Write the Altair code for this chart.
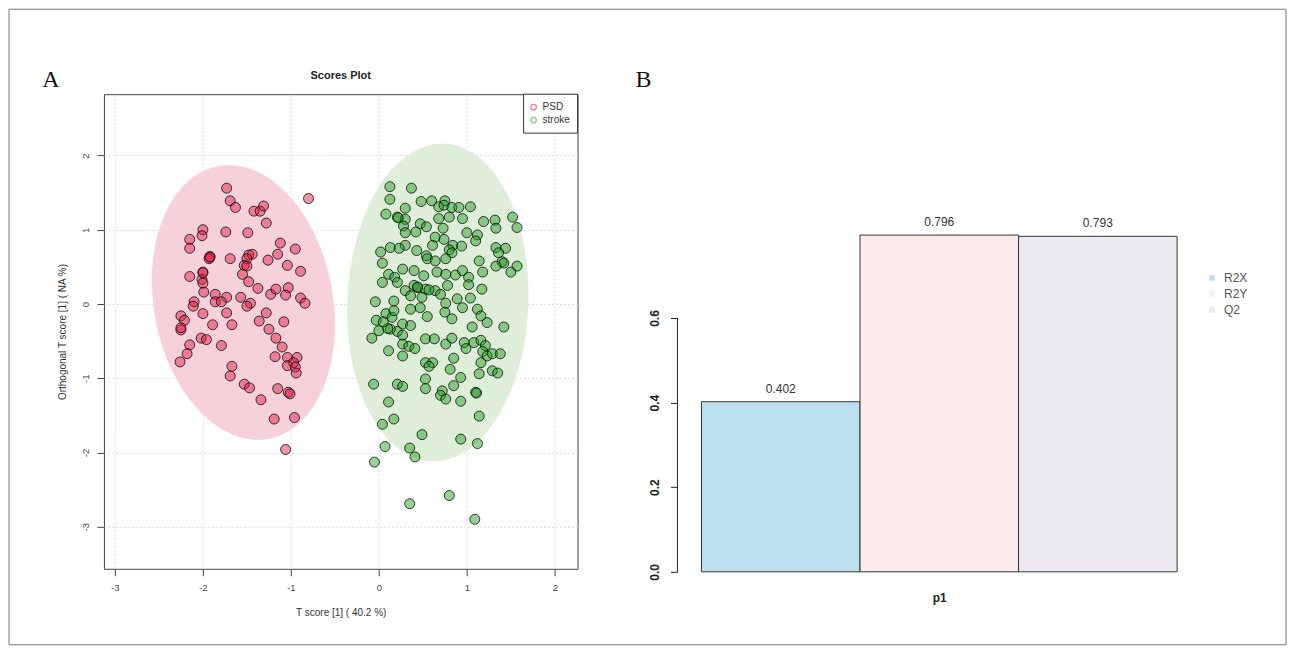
import altair as alt
import numpy as np
import pandas as pd

# ---------------- data: panel A (OPLS-DA scores) ----------------
psd_x = [-1.73, -0.80, -1.69, -1.63, -1.42, -1.35, -1.31, -1.28, -2.00, -2.01, -1.74, -1.49, -2.15, -2.15,
         -1.12, -0.95, -1.92, -1.93, -1.69, -1.48, -1.44, -1.50, -1.26, -1.15, -1.04, -0.89, -1.53, -1.50,
         -1.55, -2.15, -2.00, -2.01, -2.00, -1.48, -1.375, -1.99, -1.86, -1.73, -1.57, -1.46, -1.50, -1.86,
         -1.79, -2.10, -2.11, -1.23, -1.17, -1.03, -1.06, -0.89, -0.84, -2.25, -2.00, -1.73, -1.28, -2.21,
         -2.25, -2.25, -1.89, -1.67, -1.36, -1.08, -1.25, -1.17, -2.02, -1.96, -2.15, -1.79, -2.18, -2.26,
         -1.10, -1.18, -1.04, -0.93, -0.97, -1.04, -0.95, -0.94, -1.67, -1.69, -1.53, -1.47, -1.34, -1.15,
         -1.03, -1.01, -1.19, -0.96, -1.06, -1.92, -2.00]
psd_y = [1.56, 1.42, 1.39, 1.30, 1.25, 1.25, 1.32, 1.09, 1.00, 0.92, 0.97, 0.96, 0.87, 0.75,
         0.82, 0.74, 0.64, 0.61, 0.61, 0.66, 0.67, 0.61, 0.59, 0.67, 0.52, 0.44, 0.52, 0.51,
         0.40, 0.37, 0.43, 0.33, 0.28, 0.30, 0.21, 0.16, 0.13, 0.09, 0.09, 0.01, -0.03, 0.03,
         0.03, 0.03, -0.03, 0.13, 0.20, 0.22, 0.12, 0.08, 0.01, -0.16, -0.13, -0.12, -0.12, -0.22,
         -0.35, -0.32, -0.28, -0.28, -0.23, -0.24, -0.34, -0.46, -0.46, -0.48, -0.55, -0.56, -0.67, -0.78,
         -0.58, -0.71, -0.72, -0.72, -0.79, -0.83, -0.85, -0.93, -0.84, -0.97, -1.08, -1.13, -1.29, -1.14,
         -1.19, -1.21, -1.55, -1.53, -1.96, 0.63, 0.42]

stroke_x = [0.125, 0.37, 0.125, 0.48, 0.60, 0.75, 0.68, 0.74, 0.83, 0.91, 1.04, 0.08, 0.30, 0.21, 0.30,
            0.80, 0.95, 0.68, 1.19, 1.32, 1.33, 1.52, 1.57, 0.28, 0.47, 0.54, 0.73, 0.30, 0.42, 0.64,
            0.74, 1.00, 1.12, 1.10, 0.84, 0.94, 0.61, 0.30, 0.02, 0.13, 0.23, 0.43, 0.54, 0.55, 0.64,
            0.80, 0.83, 0.76, 1.33, 1.44, 1.36, 1.40, 1.42, 1.33, 1.57, 1.50, 0.04, 1.14, 1.18, 0.66,
            0.76, 0.87, 0.95, 1.02, 0.40, 0.51, 0.11, 0.18, 0.27, 0.04, 0.21, 0.40, 0.44, 0.30, 0.53,
            0.64, 0.70, 0.78, 1.02, 1.17, -0.04, 0.17, 0.36, 0.49, 0.89, 1.04, 0.95, 0.83, 0.75, 0.76,
            1.12, 1.16, 1.23, 1.42, 1.06, -0.03, 0.00, 0.08, 0.15, 0.17, 0.27, 0.21, 0.13, 0.36, 0.47,
            0.55, 0.36, -0.08, 0.27, 0.27, 0.34, 0.41, 0.53, 0.63, 0.76, 0.83, 0.97, 0.99, 1.08, 1.16,
            1.21, 1.18, 1.23, 1.29, 1.38, 0.11, 0.27, 0.85, 0.53, 0.61, 0.57, 1.16, 0.81, 1.29, 1.35,
            1.14, 0.53, 0.93, -0.06, 0.21, 0.27, 0.53, 0.85, 0.72, 0.70, 0.76, 1.10, 0.93, 0.11, 1.14,
            0.17, 0.04, 0.49, 0.93, 1.12, 0.07, 0.35, 0.41, -0.05, 0.80, 0.35, 1.09,
            1.11, 0.22, 0.44, 0.57, 0.10, 0.05]
stroke_y = [1.58, 1.56, 1.41, 1.38, 1.39, 1.39, 1.31, 1.33, 1.30, 1.30, 1.31, 1.21, 1.29, 1.17, 1.14,
            1.17, 1.15, 1.15, 1.11, 1.13, 1.02, 1.17, 1.03, 1.05, 1.08, 1.04, 1.02, 0.96, 0.97, 0.90,
            0.87, 0.96, 0.93, 0.85, 0.79, 0.78, 0.79, 0.79, 0.70, 0.76, 0.75, 0.72, 0.65, 0.61, 0.58,
            0.73, 0.69, 0.61, 0.76, 0.75, 0.69, 0.57, 0.55, 0.51, 0.51, 0.43, 0.55, 0.58, 0.43, 0.43,
            0.40, 0.39, 0.45, 0.36, 0.45, 0.38, 0.40, 0.36, 0.47, 0.29, 0.29, 0.25, 0.22, 0.18, 0.20,
            0.18, 0.13, 0.25, 0.26, 0.20, 0.03, 0.04, 0.11, 0.09, 0.07, 0.08, -0.05, -0.20, -0.11, 0.01,
            -0.07, -0.16, -0.25, -0.31, -0.31, -0.22, -0.36, -0.13, -0.18, -0.09, -0.27, -0.37, -0.34, -0.07, -0.05,
            -0.17, -0.29, -0.46, -0.42, -0.54, -0.57, -0.60, -0.47, -0.47, -0.54, -0.46, -0.52, -0.60, -0.52, -0.49,
            -0.56, -0.64, -0.70, -0.67, -0.67, -0.63, -0.70, -0.73, -0.79, -0.79, -0.84, -0.79, -0.88, -0.90, -0.93,
            -0.94, -1.01, -0.99, -1.08, -1.08, -1.11, -1.14, -1.10, -1.17, -1.23, -1.28, -1.19, -1.31, -1.32, -1.51,
            -1.55, -1.62, -1.76, -1.82, -1.88, -1.92, -1.94, -2.06, -2.13, -2.58, -2.69, -2.90,
            -1.20, 1.16, 0.23, 0.19, -0.33, -0.24]

groups = ["PSD", "stroke"]
point_fill = ["#DC143C", "#1A9A1A"]
ellipse_fill = ["#F7D1DA", "#DEEED8"]
legend_stroke = ["#E8456A", "#5DB85D"]
# 95% confidence ellipses:
# centre x, centre y, half-extent in x, half-extent in y, x-shift of the topmost point
ell_cx = [-1.54, 0.67]
ell_cy = [0.02, 0.02]
ell_hx = [1.04, 1.03]
ell_hy = [1.85, 2.14]
ell_top_dx = [-0.165, 0.05]
x_ticks = [-3, -2, -1, 0, 1, 2]
y_ticks = [-3, -2, -1, 0, 1, 2]

# ---------------- data: panel B (model summary) ----------------
metrics = ["R2X", "R2Y", "Q2"]
metric_values = [0.402, 0.796, 0.793]
metric_colors = ["#BCE0EE", "#FBEAEA", "#ECEAF0"]
bar_ticks = [0.0, 0.2, 0.4, 0.6]

FONT = "Liberation Sans"

# ---------------- build tables ----------------
pts = pd.concat([
    pd.DataFrame({"x": psd_x, "y": psd_y, "group": "PSD"}),
    pd.DataFrame({"x": stroke_x, "y": stroke_y, "group": "stroke"}),
], ignore_index=True)


def ellipse_band(cx, cy, hx, hy, top_dx, n=300):
    sxx, syy, sxy = hx * hx, hy * hy, top_dx * hy
    S = np.array([[sxx, sxy], [sxy, syy]])
    A = np.linalg.inv(S)
    a, b, d = A[0, 0], A[0, 1], A[1, 1]
    t = np.linspace(0, np.pi, n)
    dx = -hx * np.cos(t)
    disc = np.clip(b * b * dx * dx - d * (a * dx * dx - 1.0), 0, None)
    lo = (-b * dx - np.sqrt(disc)) / d
    hi = (-b * dx + np.sqrt(disc)) / d
    return pd.DataFrame({"x": cx + dx, "ylo": cy + lo, "yhi": cy + hi})


ell_psd = ellipse_band(ell_cx[0], ell_cy[0], ell_hx[0], ell_hy[0], ell_top_dx[0])
ell_str = ellipse_band(ell_cx[1], ell_cy[1], ell_hx[1], ell_hy[1], ell_top_dx[1])

xs_A = alt.Scale(domain=[-3.125, 2.258], nice=False, zero=False)
ys_A = alt.Scale(domain=[-3.567, 2.826], nice=False, zero=False)

x_axis_A = alt.Axis(values=x_ticks, labelExpr="toString(datum.value)", title="T score [1] ( 40.2 %)",
                    grid=True, gridDash=[2, 2], gridColor="#DDDDDD", domain=False, tickColor="#444",
                    tickSize=7, labelFontSize=9.5, labelColor="#444", labelPadding=7, titleFontSize=10,
                    titleFontWeight="normal", titleColor="#333", titlePadding=15, labelFont=FONT,
                    titleFont=FONT)
y_axis_A = alt.Axis(values=y_ticks, labelExpr="toString(datum.value)",
                    title="Orthogonal T score [1] ( NA %)", grid=True, gridDash=[2, 2],
                    gridColor="#DDDDDD", domain=False, tickColor="#444", tickSize=7,
                    labelFontSize=9.5, labelColor="#444", labelPadding=6, labelAngle=270,
                    labelAlign="center", labelBaseline="bottom", titleFontSize=10,
                    titleFontWeight="normal", titleColor="#333", titlePadding=13, labelFont=FONT,
                    titleFont=FONT)

ell1 = alt.Chart(ell_psd).mark_area(color=ellipse_fill[0], opacity=1).encode(
    x=alt.X("x:Q", scale=xs_A, axis=x_axis_A),
    y=alt.Y("ylo:Q", scale=ys_A, axis=y_axis_A),
    y2="yhi:Q",
)
ell2 = alt.Chart(ell_str).mark_area(color=ellipse_fill[1], opacity=1).encode(
    x=alt.X("x:Q", scale=xs_A),
    y=alt.Y("ylo:Q", scale=ys_A),
    y2="yhi:Q",
)

points = alt.Chart(pts).mark_point(filled=True, size=100, fillOpacity=0.45, stroke="black",
                                   strokeOpacity=0.75, strokeWidth=1).encode(
    x=alt.X("x:Q", scale=xs_A),
    y=alt.Y("y:Q", scale=ys_A),
    fill=alt.Fill("group:N", scale=alt.Scale(domain=groups, range=point_fill), legend=None),
)

one = pd.DataFrame({"t": ["x"]})

# legend box (inside top-right corner of the scores plot)
legend_box = alt.Chart(one).mark_rect(fill="white", stroke="#333", strokeWidth=1).encode(
    x=alt.value(420), x2=alt.value(474), y=alt.value(0), y2=alt.value(39))
legend_parts = [legend_box]
for i, (g, c) in enumerate(zip(groups, legend_stroke)):
    gdf = pd.DataFrame({"label": [g]})
    legend_parts.append(
        alt.Chart(gdf).mark_point(filled=False, shape="circle", size=30, strokeWidth=1.3,
                                  color=c).encode(x=alt.value(430), y=alt.value(13 + 13 * i)))
    legend_parts.append(
        alt.Chart(gdf).mark_text(align="left", baseline="middle", fontSize=10, color="#333",
                                 font=FONT).encode(x=alt.value(439), y=alt.value(13 + 13 * i),
                                                   text="label:N"))

title_A = alt.Chart(one).mark_text(text="Scores Plot", font=FONT, fontSize=11, fontWeight="bold",
                                   color="#222", align="center", baseline="middle").encode(
    x=alt.value(237), y=alt.value(-18))
letter_A = alt.Chart(one).mark_text(text="A", font="Liberation Serif", fontSize=24, color="#111",
                                    align="center", baseline="middle").encode(
    x=alt.value(-53), y=alt.value(-14))
frame = alt.Chart(one).mark_rect(fill="transparent", stroke="#777", strokeWidth=1).encode(
    x=alt.value(-95), x2=alt.value(1183), y=alt.value(-85), y2=alt.value(551))

left = alt.layer(frame, ell1, ell2, points, *legend_parts, title_A, letter_A).properties(
    width=474, height=475, view=alt.ViewBackground(stroke="#444", strokeWidth=1))

# ---------------- panel B ----------------
bars_df = pd.DataFrame({"metric": metrics, "value": metric_values,
                        "label": [f"{v:.3f}" for v in metric_values]})
ys_B = alt.Scale(domain=[0, 1.129], nice=False, zero=True)
xs_B = alt.Scale(domain=metrics, paddingInner=0, paddingOuter=0)

bars = alt.Chart(bars_df).mark_bar(stroke="#333", strokeWidth=1).encode(
    x=alt.X("metric:N", sort=metrics, scale=xs_B,
            axis=alt.Axis(title="p1", labels=False, ticks=False, domain=False, titleFontSize=12,
                          titleFontWeight="bold", titleColor="#222", titlePadding=21, titleFont=FONT)),
    y=alt.Y("value:Q", scale=ys_B,
            axis=alt.Axis(values=bar_ticks, format=".1f", title=None, grid=False, domain=False,
                          offset=24, tickSize=7, tickColor="#222", labelAngle=270,
                          labelAlign="center", labelBaseline="bottom", labelPadding=9,
                          labelFontSize=12, labelFontWeight="bold", labelColor="#222",
                          labelFont=FONT)),
    fill=alt.Fill("metric:N", scale=alt.Scale(domain=metrics, range=metric_colors),
                  legend=alt.Legend(orient="none", legendX=505, legendY=178, title=None,
                                    symbolType="square", symbolSize=30, symbolStrokeWidth=0,
                                    labelFontSize=12, labelColor="#555", labelFont=FONT,
                                    rowPadding=4, labelOffset=6)),
)
bar_text = alt.Chart(bars_df).mark_text(baseline="bottom", dy=-6, fontSize=12, color="#333",
                                        font=FONT).encode(
    x=alt.X("metric:N", sort=metrics, scale=xs_B),
    y=alt.Y("value:Q", scale=ys_B),
    text="label:N",
)
axis_rule_df = pd.DataFrame({"lo": [bar_ticks[0]], "hi": [bar_ticks[-1]]})
axis_rule = alt.Chart(axis_rule_df).mark_rule(color="#222", strokeWidth=1).encode(
    x=alt.value(-24),
    y=alt.Y("lo:Q", scale=ys_B),
    y2="hi:Q",
)
letter_B = alt.Chart(one).mark_text(text="B", font="Liberation Serif", fontSize=24, color="#111",
                                    align="center", baseline="middle").encode(
    x=alt.value(-58), y=alt.value(-14))

right = alt.layer(bars, bar_text, axis_rule, letter_B).properties(
    width=476, height=478, view=alt.ViewBackground(stroke="transparent"))

chart = alt.hconcat(left, right, spacing=124, bounds="flush").resolve_scale(
    x="independent", y="independent", fill="independent"
).resolve_legend(fill="independent").properties(
    padding=0, background="white").configure(font=FONT)

chart.save("out.html", embed_options={"renderer": "svg", "actions": False})
